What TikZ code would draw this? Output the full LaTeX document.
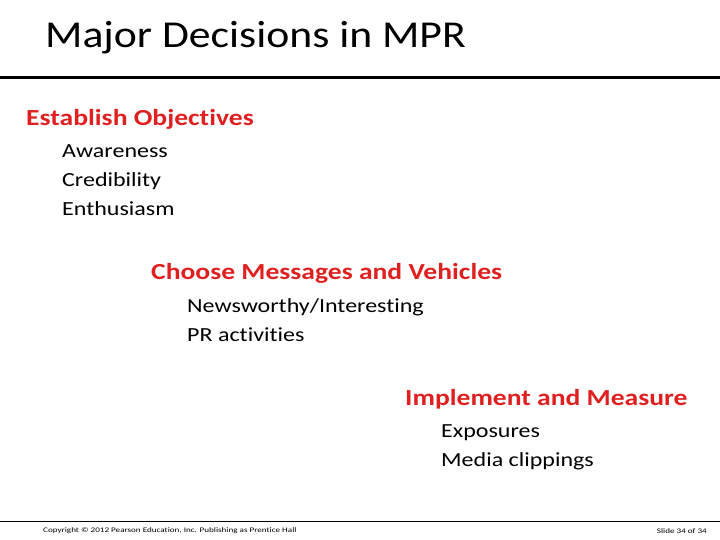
\documentclass[tikz,border=0pt]{standalone}
\usepackage{fontspec}
\setmainfont{Carlito}[Ligatures=NoCommon]
\newfontfamily\wide{Carlito}[FakeStretch=1.2,Ligatures=NoCommon]
\newfontfamily\wideT{Carlito}[FakeStretch=1.15,Ligatures=NoCommon]
\newfontfamily\wideF{Carlito}[FakeStretch=1.3,Ligatures=NoCommon]
\definecolor{hd}{RGB}{224,32,32}
\begin{document}
\begin{tikzpicture}[x=1pt,y=-1pt,
 head/.style={anchor=west,inner sep=0,text=hd,font=\wide\fontsize{23}{27}\selectfont\bfseries},
 item/.style={anchor=north west,inner sep=0,align=left,font=\wide\fontsize{20}{29}\selectfont}]
\useasboundingbox (0,0) rectangle (720,540);
\node[anchor=west,inner sep=0,font=\wideT\fontsize{38}{44}\selectfont] (t) at (45,38) {Major Decisions in MPR};
\draw[line width=3pt] (0,78) coordinate (l1) -- (720,78) coordinate (l2);
\node[head] (h1) at (26,119) {Establish Objectives};
\node[item] (i1) at (62,144) {Awareness\\Credibility\\Enthusiasm};
\node[head] (h2) at (151,273) {Choose Messages and Vehicles};
\node[item] (i2) at (187,298) {Newsworthy/Interesting\\PR activities};
\node[head] (h3) at (405,399) {Implement and Measure};
\node[item] (i3) at (441,424) {Exposures\\Media clippings};
\draw[line width=1pt] (0,521) coordinate (f1) -- (720,521) coordinate (f2);
\node[anchor=west,inner sep=0,font=\wideF\fontsize{7}{8}\selectfont] (c) at (43,531) {Copyright © 2012 Pearson Education, Inc. Publishing as Prentice Hall};
\node[anchor=east,inner sep=0,font=\wideF\fontsize{7}{8}\selectfont] (s) at (707,531) {Slide 34 of 34};
\end{tikzpicture}
\end{document}
